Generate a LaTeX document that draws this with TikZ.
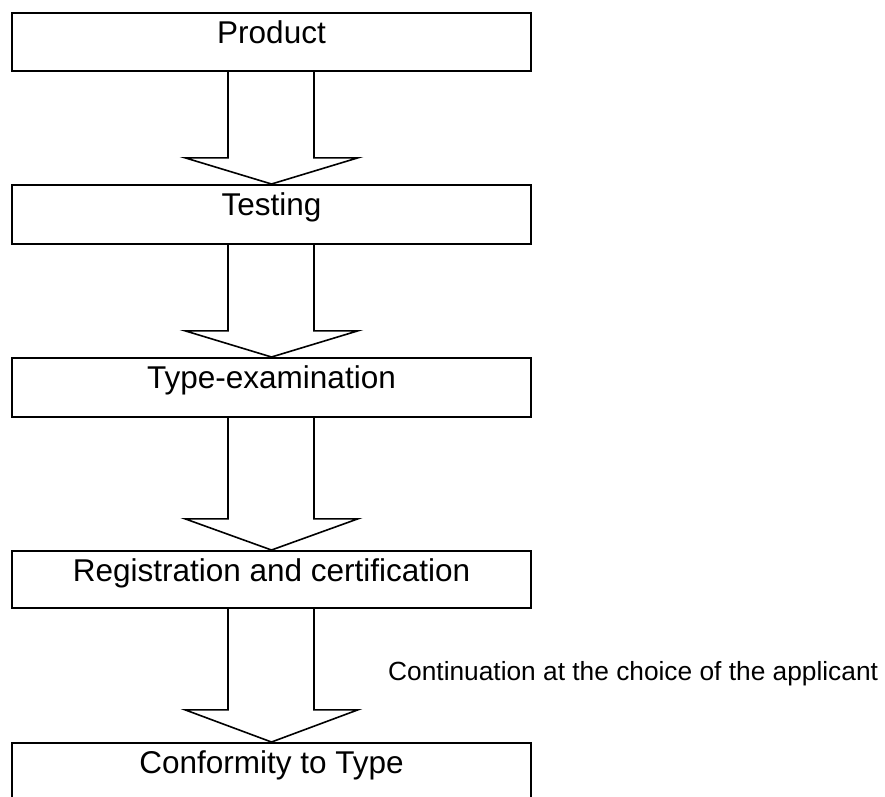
\documentclass[tikz,border=0pt]{standalone}
\usepackage{fontspec}
\setmainfont{Liberation Sans}
\usetikzlibrary{calc}
\begin{document}
\begin{tikzpicture}[x=1pt,y=-1pt,
  stagebox/.style={draw=black, line width=1.8pt, minimum width=519pt, inner sep=0pt,
    anchor=north, font=\fontsize{31.5}{36}\selectfont, text height=31pt},
  flowarrow/.style={draw=black, line width=1.6pt, line join=miter}]
\useasboundingbox (0,0) rectangle (885,796);
\node[stagebox, text depth=27pt] (b1) at (271.5,12) {Product};
\node[stagebox, text depth=28pt] (b2) at (271.5,184) {Testing};
\node[stagebox, text depth=28pt] (b3) at (271.5,357) {Type-examination};
\node[stagebox, text depth=26pt] (b4) at (271.5,550) {Registration and certification};
\node[stagebox, text depth=28pt] (b5) at (271.5,742) {Conformity to Type};
\foreach \a/\b/\len in {b1/b2/86, b2/b3/86, b3/b4/101, b4/b5/101}{
  \draw[flowarrow] ($(\a.south)+(-43.5,0)$) -- ($(\a.south)+(-43.5,\len)$)
    -- ($(\a.south)+(-86.5,\len)$) -- (\b.north)
    -- ($(\a.south)+(86.5,\len)$) -- ($(\a.south)+(42.5,\len)$)
    -- ($(\a.south)+(42.5,0)$);
}
\node[anchor=base west, inner sep=0pt, font=\fontsize{26.3}{30}\selectfont] (note) at (388,680) {Continuation at the choice of the applicant};
\end{tikzpicture}
\end{document}
